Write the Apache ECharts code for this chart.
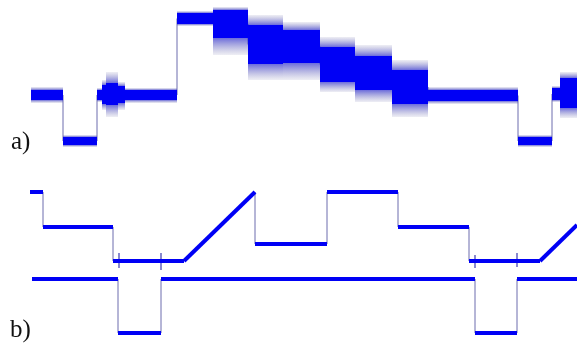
<!DOCTYPE html>
<html>
<head>
<meta charset="utf-8">
<script src="https://cdn.jsdelivr.net/npm/echarts@6/dist/echarts.min.js"></script>
<style>
  html, body { margin: 0; padding: 0; background: #fff; }
  #chart { width: 577px; height: 345px; }
</style>
</head>
<body>
<div id="chart"></div>
<script>
// ---- panel a: noisy trace, one entry per flat stretch ----
const aEdges      = [1, 33, 67, 72, 76, 88, 95, 147, 183, 218, 253, 290, 325, 362, 398, 488, 522, 530, 547];
const aCoreHigh   = [70, 23, 70, 75, 77, 74, 70, 147, 150, 135, 130, 113, 104, 90, 70, 23, 72, 82];
const aCoreLow    = [60, 15, 60, 56, 55, 57, 60, 136, 122, 96, 97, 78, 70, 56, 59, 15, 60, 52];
const aSpikeHigh  = [73, 25, 72, 80, 88, 78, 72, 149, 153, 145, 138, 123, 115, 100, 73, 25, 74, 88];
const aSpikeLow   = [57, 13, 58, 50, 43, 50, 57, 134, 105, 80, 80, 68, 58, 43, 56, 13, 58, 42];

// ---- panel b: two clean traces ----
const bUpperX = [0, 13, 13, 83, 83, 154, 225, 225, 297, 297, 368, 368, 439, 439, 510, 547];
const bUpperY = [153, 153, 118, 118, 84, 84, 153, 101, 101, 153, 153, 118, 118, 84, 84, 120];
const bLowerX = [2, 88, 88, 131, 131, 445, 445, 487, 487, 547];
const bLowerY = [66, 66, 12, 12, 66, 66, 12, 12, 66, 66];
// small glitches on the upper trace where the lower one switches
const bGlitchX = [89, 131, 445, 487];
const bGlitchTop = [92, 92, 90, 92];
const bGlitchBottom = [77, 75, 77, 78];

const BLUE = "#0000f5";
const EDGE = "#6c6cae";

const chart = echarts.init(document.getElementById("chart"));

// build rows for the band series
const aRows = aCoreHigh.map((_, i) => [
  aEdges[i], aEdges[i + 1], aCoreLow[i], aCoreHigh[i], aSpikeLow[i], aSpikeHigh[i]
]);
const aMid = [];
aRows.forEach(r => {
  const m = (r[2] + r[3]) / 2;
  aMid.push([r[0], m], [r[1], m]);
});

const toPts = (xs, ys) => xs.map((x, i) => [x, ys[i]]);
const thickRows = (xs, ys) => {
  const rows = [];
  for (let i = 0; i < xs.length - 1; i++) {
    if (xs[i] !== xs[i + 1]) rows.push([xs[i], ys[i], xs[i + 1], ys[i + 1]]);
  }
  return rows;
};
const bThick = thickRows(bUpperX, bUpperY).concat(thickRows(bLowerX, bLowerY));
const bGlitch = bGlitchX.map((x, i) => [x, bGlitchBottom[i], bGlitchTop[i]]);

const SPIKE_OUT = "rgba(115,115,170,0.12)";
const SPIKE_IN = "rgba(45,45,205,0.7)";

function renderBand(params, api) {
  const x0 = api.value(0), x1 = api.value(1);
  const lo = api.value(2), hi = api.value(3), sLo = api.value(4), sHi = api.value(5);
  const a = api.coord([x0, sHi]);
  const b = api.coord([x1, hi]);
  const c = api.coord([x0, lo]);
  const d = api.coord([x1, sLo]);
  const w = b[0] - a[0];
  return {
    type: "group",
    children: [
      {
        type: "rect",
        shape: { x: a[0], y: a[1], width: w, height: b[1] - a[1] },
        style: {
          fill: new echarts.graphic.LinearGradient(0, 0, 0, 1, [
            { offset: 0, color: SPIKE_OUT },
            { offset: 1, color: SPIKE_IN }
          ])
        }
      },
      {
        type: "rect",
        shape: { x: c[0], y: c[1], width: w, height: d[1] - c[1] },
        style: {
          fill: new echarts.graphic.LinearGradient(0, 0, 0, 1, [
            { offset: 0, color: SPIKE_IN },
            { offset: 1, color: SPIKE_OUT }
          ])
        }
      },
      {
        type: "rect",
        shape: { x: a[0], y: b[1], width: w, height: c[1] - b[1] },
        style: { fill: BLUE }
      }
    ]
  };
}

function renderThick(params, api) {
  const p0 = api.coord([api.value(0), api.value(1)]);
  const p1 = api.coord([api.value(2), api.value(3)]);
  return {
    type: "line",
    shape: { x1: p0[0], y1: p0[1], x2: p1[0], y2: p1[1] },
    style: { stroke: BLUE, lineWidth: 4, lineCap: "butt" }
  };
}

function renderGlitch(params, api) {
  const p0 = api.coord([api.value(0), api.value(1)]);
  const p1 = api.coord([api.value(0), api.value(2)]);
  return {
    type: "line",
    shape: { x1: p0[0], y1: p0[1], x2: p1[0], y2: p1[1] },
    style: { stroke: "#3a3ab0", lineWidth: 1.2 }
  };
}

const option = {
  animation: false,
  backgroundColor: "#fff",
  grid: [
    { left: 30, right: 0, top: 0, height: 160 },
    { left: 30, right: 0, top: 170, height: 175 }
  ],
  xAxis: [
    { gridIndex: 0, type: "value", min: 0, max: 547, show: false },
    { gridIndex: 1, type: "value", min: 0, max: 547, show: false }
  ],
  yAxis: [
    { gridIndex: 0, type: "value", min: 0, max: 160, show: false },
    { gridIndex: 1, type: "value", min: 0, max: 175, show: false }
  ],
  graphic: [
    { type: "text", left: 11, top: 130, style: { text: "a)", font: '25px "Liberation Serif"', fill: "#111" } },
    { type: "text", left: 10, top: 318, style: { text: "b)", font: '25px "Liberation Serif"', fill: "#111" } }
  ],
  series: [
    {
      type: "line", xAxisIndex: 0, yAxisIndex: 0, data: aMid,
      symbol: "none", lineStyle: { color: EDGE, width: 1 }, z: 1
    },
    {
      type: "custom", xAxisIndex: 0, yAxisIndex: 0, data: aRows,
      encode: { x: [0, 1], y: [2, 3, 4, 5] }, renderItem: renderBand, z: 2
    },
    {
      type: "line", xAxisIndex: 1, yAxisIndex: 1, data: toPts(bUpperX, bUpperY),
      symbol: "none", lineStyle: { color: EDGE, width: 1 }, z: 1
    },
    {
      type: "line", xAxisIndex: 1, yAxisIndex: 1, data: toPts(bLowerX, bLowerY),
      symbol: "none", lineStyle: { color: EDGE, width: 1 }, z: 1
    },
    {
      type: "custom", xAxisIndex: 1, yAxisIndex: 1, data: bGlitch,
      encode: { x: 0, y: [1, 2] }, renderItem: renderGlitch, z: 2
    },
    {
      type: "custom", xAxisIndex: 1, yAxisIndex: 1, data: bThick,
      encode: { x: [0, 2], y: [1, 3] }, renderItem: renderThick, z: 3
    }
  ]
};

chart.setOption(option);
</script>
</body>
</html>
